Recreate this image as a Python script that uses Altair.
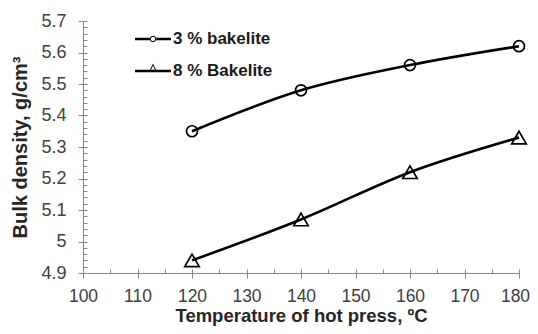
import altair as alt
import pandas as pd

# ---- data ----
temps = [120, 140, 160, 180]
density_3 = [5.35, 5.48, 5.56, 5.62]
density_8 = [4.94, 5.07, 5.22, 5.33]
series_names = ["3 % bakelite", "8 % Bakelite"]
x_ticks = [100, 110, 120, 130, 140, 150, 160, 170, 180]
y_ticks = [4.9, 5.0, 5.1, 5.2, 5.3, 5.4, 5.5, 5.6, 5.7]
x_minor = [100 + 5 * i for i in range(17)]
y_minor = [round(4.9 + 0.02 * i, 2) for i in range(41)]

df = pd.DataFrame({
    "temp": temps + temps,
    "density": density_3 + density_8,
    "series": [series_names[0]] * len(temps) + [series_names[1]] * len(temps),
})

FONT = "Liberation Sans"
AX = "#868686"

x_scale = alt.Scale(domain=[100, 180], nice=False, zero=False)
y_scale = alt.Scale(domain=[4.9, 5.7], nice=False, zero=False)

x_main = alt.Axis(values=x_ticks, orient="bottom", title="Temperature of hot press, ºC",
                  grid=False, domainColor=AX, tickColor=AX, tickSize=5, labelFlush=False,
                  labelOffset={"condition": {"test": "datum.value >= 180", "value": -4}, "value": 0},
                  labelFont=FONT, labelFontSize=17.5, labelColor="#404040", labelPadding=9,
                  titleFont=FONT, titleFontSize=18.5, titleFontWeight="bold", titleColor="#262626",
                  titlePadding=2)
y_main = alt.Axis(values=y_ticks, orient="left", title="Bulk density, g/cm³", format=".1~f",
                  grid=False, domainColor=AX, tickColor=AX, tickSize=5, labelFlush=False,
                  labelFont=FONT, labelFontSize=18, labelColor="#404040", labelPadding=12,
                  titleFont=FONT, titleFontSize=20, titleFontWeight="bold", titleColor="#262626",
                  titlePadding=10)
x_inner = alt.Axis(values=x_minor, orient="bottom", title=None, labels=False, domain=False,
                   grid=False, tickColor=AX, tickSize=4, offset=-4)
y_inner = alt.Axis(values=y_minor, orient="left", title=None, labels=False, domain=False,
                   grid=False, tickColor=AX, tickSize=4, offset=-4)

circle_path = ("M-1,-0.07H-0.18V0.07H-1Z M0.18,-0.07H1V0.07H0.18Z "
               "M-0.18,0A0.18,0.18 0 1,0 0.18,0A0.18,0.18 0 1,0 -0.18,0Z "
               "M-0.125,0A0.125,0.125 0 1,1 0.125,0A0.125,0.125 0 1,1 -0.125,0Z")
triangle_path = ("M-1,-0.07H1V0.07H-1Z "
                 "M0,-0.42L0.21,0.03L-0.21,0.03Z "
                 "M0,-0.3L-0.13,-0.02L0.13,-0.02Z")

base = alt.Chart(df)

lines = base.mark_line(interpolate="monotone", color="black", strokeWidth=2.6).encode(
    x=alt.X("temp:Q", scale=x_scale, axis=x_main),
    y=alt.Y("density:Q", scale=y_scale, axis=y_main),
    detail="series:N",
)

inner = base.mark_point(opacity=0).encode(
    x=alt.X("temp:Q", scale=x_scale, axis=x_inner),
    y=alt.Y("density:Q", scale=y_scale, axis=y_inner),
)

points = base.mark_point(filled=False, color="black", strokeWidth=1.7, opacity=1).encode(
    x=alt.X("temp:Q", scale=x_scale, axis=None),
    y=alt.Y("density:Q", scale=y_scale, axis=None),
    shape=alt.Shape("series:N", scale=alt.Scale(domain=series_names, range=["circle", "triangle-up"]), legend=None),
    size=alt.Size("series:N", scale=alt.Scale(domain=series_names, range=[120, 210]), legend=None),
)

legend_layer = base.mark_point(filled=True, color="black", opacity=0).encode(
    x=alt.X("temp:Q", scale=x_scale, axis=None),
    y=alt.Y("density:Q", scale=y_scale, axis=None),
    shape=alt.Shape("series:N",
                    scale=alt.Scale(domain=series_names, range=[circle_path, triangle_path]),
                    legend=alt.Legend(orient="none", legendX=52, legendY=0, title=None,
                                      padding=0, symbolSize=1296, symbolStrokeWidth=0,
                                      symbolFillColor="black", symbolOpacity=1,
                                      labelFont=FONT, labelFontSize=17, labelFontWeight="bold",
                                      labelColor="#1a1a1a", labelOffset=2, rowPadding=6)),
)

chart = alt.layer(lines, inner, points, legend_layer).resolve_axis(
    x="independent", y="independent"
).resolve_scale(shape="independent", size="independent").properties(
    width=436, height=252,
    autosize=alt.AutoSizeParams(type="none"),
    padding={"left": 75, "top": 13, "right": 11, "bottom": 53},
    background="white",
).configure_view(stroke=None)

chart.save("out.html", embed_options={"renderer": "svg", "actions": False})
